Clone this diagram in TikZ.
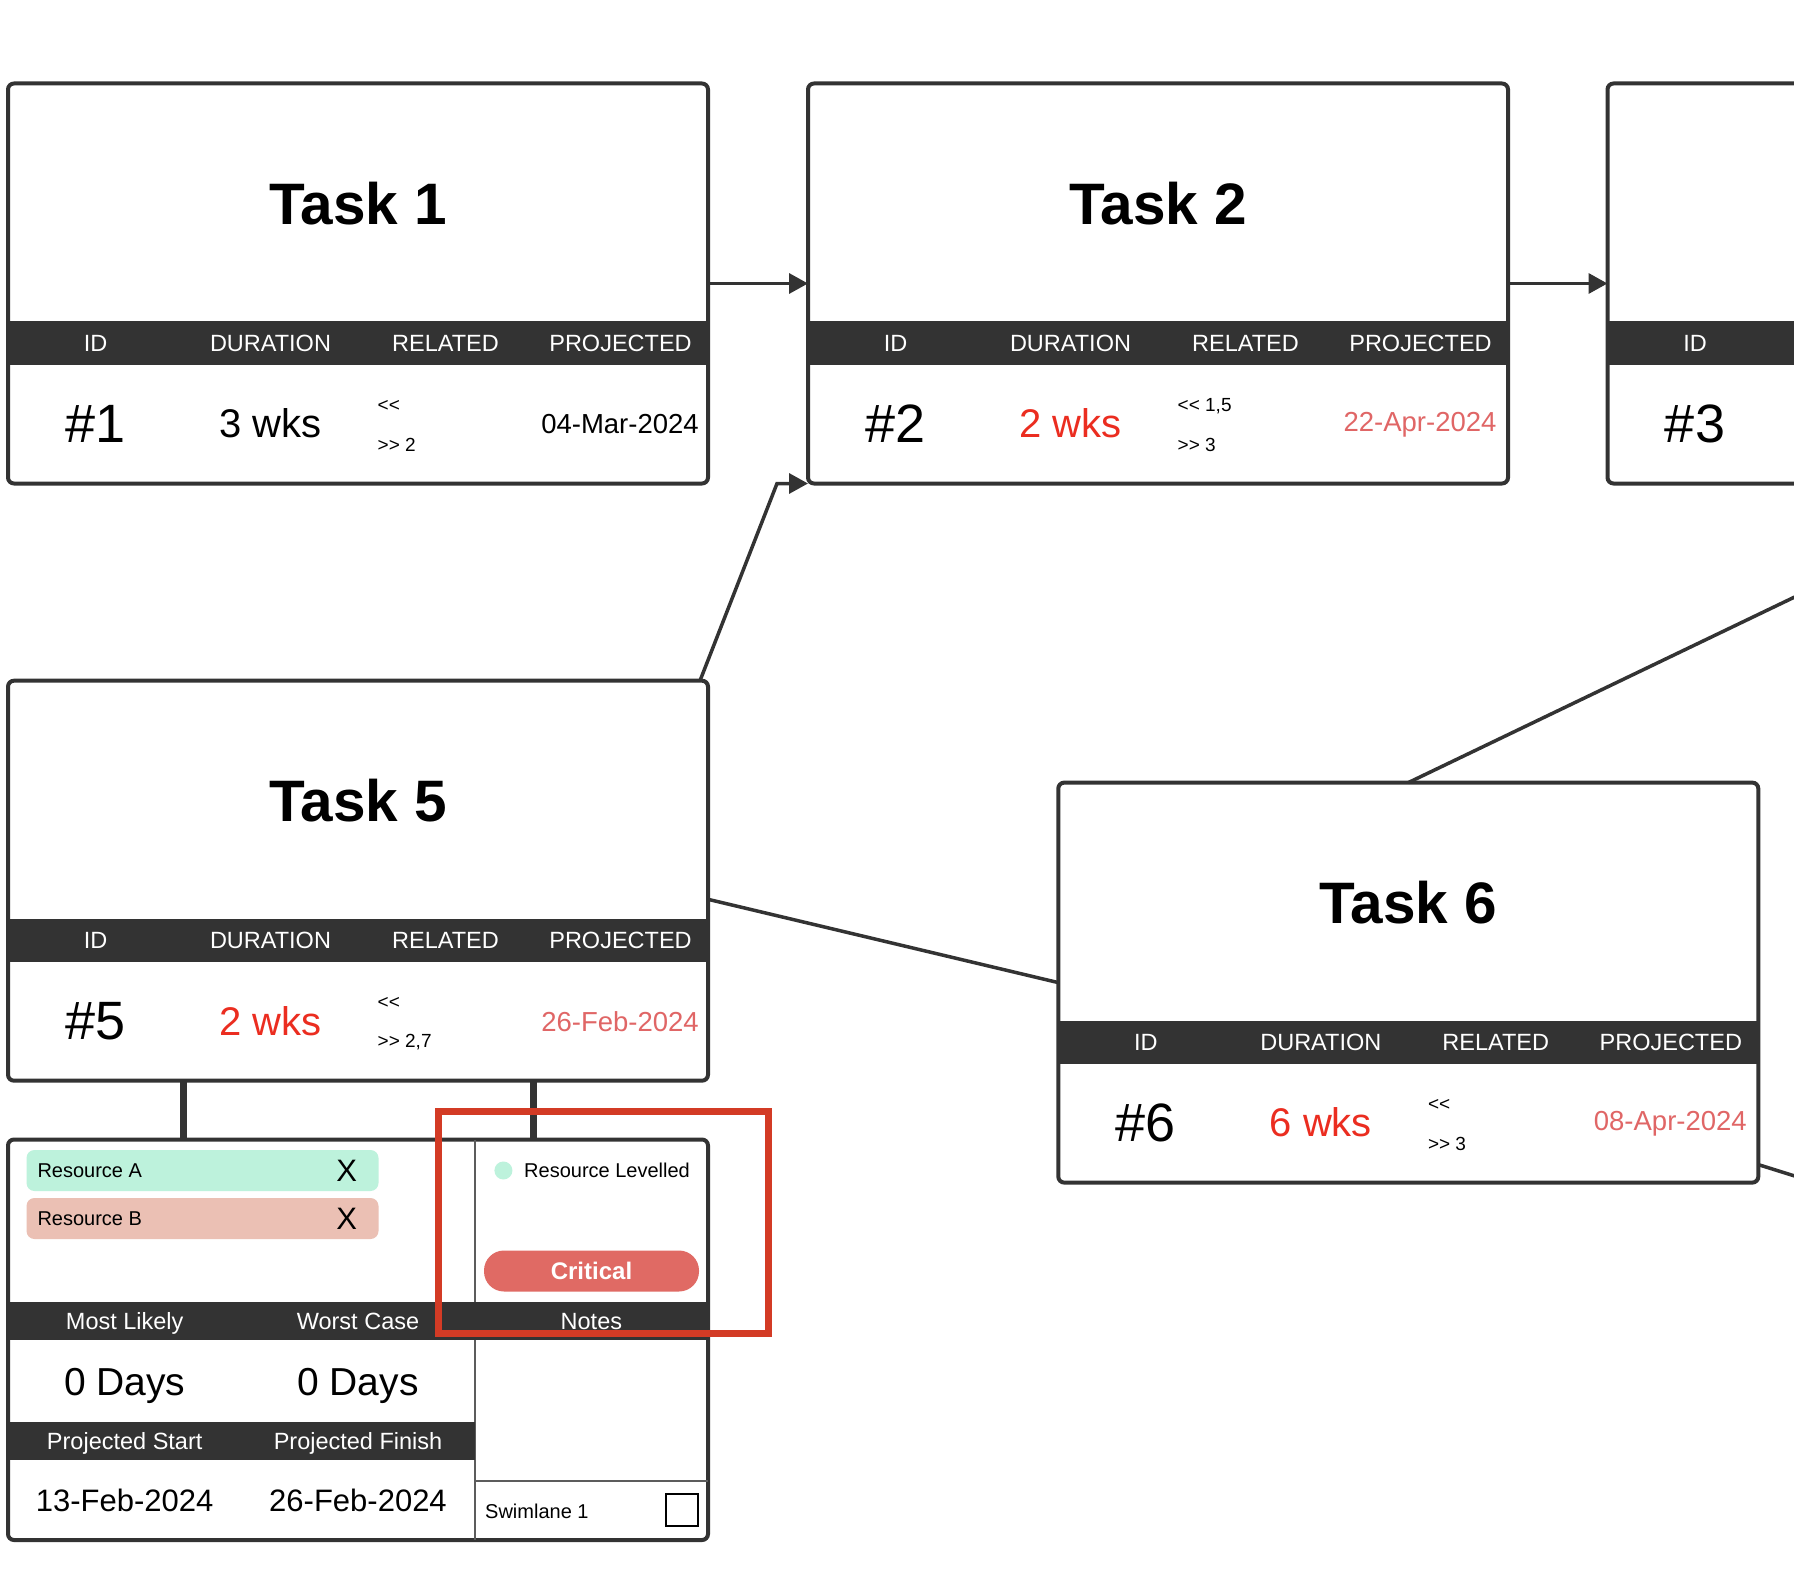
\documentclass[tikz,border=0pt]{standalone}
\usepackage{fontspec}
\setmainfont{Liberation Sans}
\usetikzlibrary{arrows.meta,calc,positioning}

\definecolor{ink}{HTML}{333333}
\definecolor{mint}{HTML}{BDF2DC}
\definecolor{blush}{HTML}{EBC0B4}
\definecolor{critfill}{HTML}{E06A64}
\definecolor{focusred}{HTML}{D33B25}
\definecolor{kdur}{HTML}{000000}
\definecolor{kdate}{HTML}{000000}
\definecolor{rdur}{HTML}{EB2D20}
\definecolor{rdate}{HTML}{E06666}

\tikzset{
  taskbox/.style={draw=ink, line width=4pt, rounded corners=6pt, fill=white,
    minimum width=700pt, minimum height=400pt, inner sep=0pt, outer sep=0pt,
    anchor=north west},
  tasktitle/.style={font=\fontsize{58.5}{62}\selectfont\bfseries},
  headtext/.style={text=white, font=\fontsize{23.5}{26}\selectfont,
    text height=16.8pt, text depth=0pt, inner sep=0pt},
  idtext/.style={font=\fontsize{54}{58}\selectfont},
  durtext/.style={font=\fontsize{40}{44}\selectfont},
  reltext/.style={font=\fontsize{19}{22}\selectfont, anchor=west, inner sep=0pt},
  datetext/.style={font=\fontsize{27.5}{30}\selectfont},
  link/.style={draw=ink, line width=3.5pt},
  linkto/.style={link, -{Triangle[length=19pt,width=20pt]}},
  stem/.style={draw=ink, line width=7pt},
  divider/.style={draw=ink!80, line width=2pt},
  pill/.style={rounded corners=8pt, minimum width=352pt, minimum height=41pt,
    inner sep=0pt},
  restext/.style={font=\fontsize{20}{22}\selectfont, anchor=west, inner sep=0pt},
  xmark/.style={font=\fontsize{31}{33}\selectfont, inner sep=0pt},
  dot/.style={circle, fill=mint, minimum size=18pt, inner sep=0pt},
  critpill/.style={fill=critfill, rounded corners=20pt, minimum width=215pt,
    minimum height=41pt, inner sep=0pt, text=white,
    font=\fontsize{24}{26}\selectfont\bfseries},
  daytext/.style={font=\fontsize{39}{42}\selectfont,
    text height=28pt, text depth=0pt, inner sep=0pt},
  stamp/.style={font=\fontsize{31}{34}\selectfont},
  checkbox/.style={draw=black, line width=2pt, fill=white, minimum size=32pt,
    inner sep=0pt},
  focus/.style={draw=focusred, line width=7pt, minimum width=330pt,
    minimum height=222pt, inner sep=0pt}
}

\newcommand{\prevs}{<\kern0pt<}
\newcommand{\nexts}{>\kern0pt>}

% card: name, top left, title, id, duration, <<, >>, projected, colour prefix
\newcommand{\taskcard}[9]{%
  \begin{scope}[shift={(#2)}]
    \node[taskbox] (#1) at (0,0) {};
    \fill[ink] (0,238) rectangle (700,281);
    \node[tasktitle] (#1-title) at (350,120) {#3};
    \foreach \h [count=\i] in {ID,DURATION,RELATED,PROJECTED}
      \node[headtext] (#1-h\i) at (175*\i-87.5,259.5) {\h};
    \node[idtext] (#1-id) at (87.5,340) {\##4};
    \node[durtext, text=#9dur] (#1-dur) at (262.5,340) {#5};
    \node[reltext] (#1-in) at (369.5,322.5) {\prevs\ #6};
    \node[reltext] (#1-out) at (369.5,361.5) {\nexts\ #7};
    \node[datetext, text=#9date] (#1-date) at (612,341) {#8};
  \end{scope}}

\begin{document}
\begin{tikzpicture}[x=1pt,y=-1pt]
  \useasboundingbox (0,0) rectangle (1794,1570);
  \fill[white] (0,0) rectangle (1794,1570);
  \clip (0,0) rectangle (1794,1570);

  % tasks
  \taskcard{t1}{8,83.5}{Task 1}{1}{3 wks}{}{2}{04-Mar-2024}{k}
  \taskcard{t2}{808,83.5}{Task 2}{2}{2 wks}{1,5}{3}{22-Apr-2024}{r}
  \taskcard{t5}{8,680.7}{Task 5}{5}{2 wks}{}{2,7}{26-Feb-2024}{r}
  \taskcard{t6}{1058.3,782.6}{Task 6}{6}{6 wks}{}{3}{08-Apr-2024}{r}

  % task 3, cut by the right edge
  \begin{scope}[shift={(1607.5,83.5)}]
    \node[taskbox] (t3) at (0,0) {};
    \fill[ink] (0,238) rectangle (700,281);
    \node[headtext] (t3-h1) at (87.5,259.5) {ID};
    \node[idtext] (t3-id) at (87.5,340) {\#3};
  \end{scope}

  % links
  \coordinate (t3foot) at (2032,483);
  \coordinate (t7side) at (1900,1209);
  \draw[linkto] (t1.east) -- (t2.west);
  \draw[linkto] (t2.east) -- (t3.west);
  \draw[linkto] ([xshift=-8pt]t5.north east) -- ([xshift=-31pt]t2.south west) -- (t2.south west);
  \draw[link] ([yshift=-18.6pt]t5.east) -- (t6.west);
  \draw[link] (t6.north) -- (t3foot);
  \draw[link] ([yshift=-182pt]t6.east) -- (t7side);

  % detail panel of task 5
  \begin{scope}[shift={(8,1139.5)}]
    \node[taskbox, minimum height=400.5pt] (d5) at (0,0) {};
    \node[pill, fill=mint] (resA) at (194.5,31) {};
    \node[restext] (resA-name) at ([xshift=11pt]resA.west) {Resource A};
    \node[xmark] (resA-x) at ([xshift=-32pt]resA.east) {X};
    \node[pill, fill=blush] (resB) at (194.5,79) {};
    \node[restext] (resB-name) at ([xshift=11pt]resB.west) {Resource B};
    \node[xmark] (resB-x) at ([xshift=-32pt]resB.east) {X};
    \draw[divider] (466.8,0) -- (466.8,400.5);
    \node[dot] (lvl-dot) at (495.4,31) {};
    \node[restext] (lvl) at (516,31) {Resource Levelled};
    \node[critpill] (crit) at (583.5,131.5) {Critical};
    \fill[ink] (0,162.5) rectangle (700,200.5);
    \node[headtext] (likely) at (116.7,181.5) {Most Likely};
    \node[headtext] (worst) at (350,181.5) {Worst Case};
    \node[headtext] (notes) at (583.4,181.5) {Notes};
    \node[daytext] (likely-v) at (116.7,241.5) {0 Days};
    \node[daytext] (worst-v) at (350,241.5) {0 Days};
    \fill[ink] (0,282.5) rectangle (466.8,320.5);
    \node[headtext] (pstart) at (116.7,301.5) {Projected Start};
    \node[headtext] (pfinish) at (350,301.5) {Projected Finish};
    \node[stamp] (pstart-v) at (116.7,361) {13-Feb-2024};
    \node[stamp] (pfinish-v) at (350,361) {26-Feb-2024};
    \draw[divider] (466.8,341) -- (700,341);
    \node[restext] (lane) at (477,372) {Swimlane 1};
    \node[checkbox] (lane-box) at (674,370.5) {};
  \end{scope}
  \draw[stem] ([xshift=-175pt]t5.south) -- ([xshift=-175pt]d5.north);
  \draw[stem] ([xshift=175pt]t5.south) -- ([xshift=175pt]d5.north);

  % highlight
  \node[focus] (hl) at (603,1222) {};
\end{tikzpicture}
\end{document}
